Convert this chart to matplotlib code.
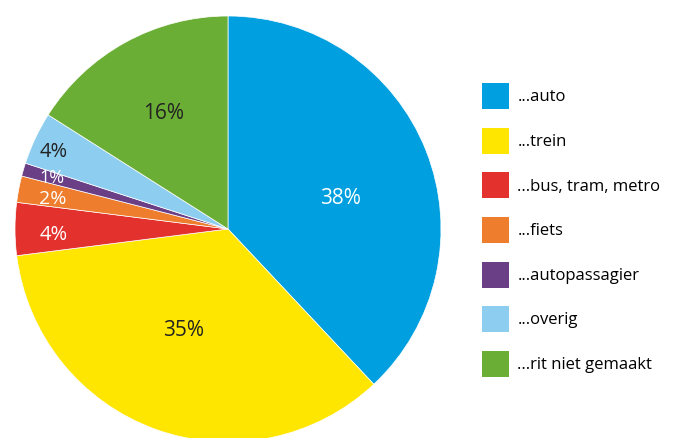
import matplotlib
matplotlib.use('Agg')
import matplotlib.pyplot as plt
import numpy as np

plt.rcParams['font.family'] = ['Open Sans', 'DejaVu Sans']

# data
categories = ['...auto', '...trein', '...bus, tram, metro', '...fiets',
              '...autopassagier', '...overig', '...rit niet gemaakt']
shares = [38, 35, 4, 2, 1, 4, 16]
colors = ['#009FDF', '#FFE600', '#E3312D', '#EE7D2D', '#6A3F86', '#8DCEF0', '#6BAE35']

# label layout: distance from centre, angle shift (deg), text colour, size
label_dist = [0.55, 0.51, 0.82, 0.835, 0.865, 0.90, 0.63]
label_shift = [-5.2, -4.6, 1.0, 0.4, -0.6, 0.8, 0.0]
label_colors = ['white', '#222222', 'white', 'white', 'white', '#222222', '#222222']
label_sizes = [15, 15, 14.5, 14, 13, 14.5, 15]

fig = plt.figure(figsize=(6.97, 4.38), dpi=100)
W, H = 697, 438
cx, cy, r = 228, 229, 213
ax = fig.add_axes([(cx - r) / W, (H - cy - r) / H, 2 * r / W, 2 * r / H])

wedges, _ = ax.pie(shares, colors=colors, startangle=90, counterclock=False,
                   wedgeprops=dict(edgecolor='white', linewidth=0.5))
ax.set_xlim(-1, 1)
ax.set_ylim(-1, 1)
ax.set_aspect('equal')
ax.axis('off')

for w, share, d, s, c, fs in zip(wedges, shares, label_dist, label_shift,
                                  label_colors, label_sizes):
    ang = np.deg2rad((w.theta1 + w.theta2) / 2 + s)
    ax.text(d * np.cos(ang), d * np.sin(ang), f'{share}%', color=c,
            fontsize=fs, ha='center', va='center_baseline')

leg = fig.legend(wedges, categories, loc='upper left',
                 bbox_to_anchor=(482 / W, 1 - 83 / H), frameon=False,
                 fontsize=12, handlelength=1.62, handleheight=2.02,
                 handletextpad=0.5, labelspacing=1.12, borderaxespad=0,
                 borderpad=0)
for h in leg.legend_handles:
    h.set_edgecolor('none')

fig.savefig('out.png', dpi=100)
